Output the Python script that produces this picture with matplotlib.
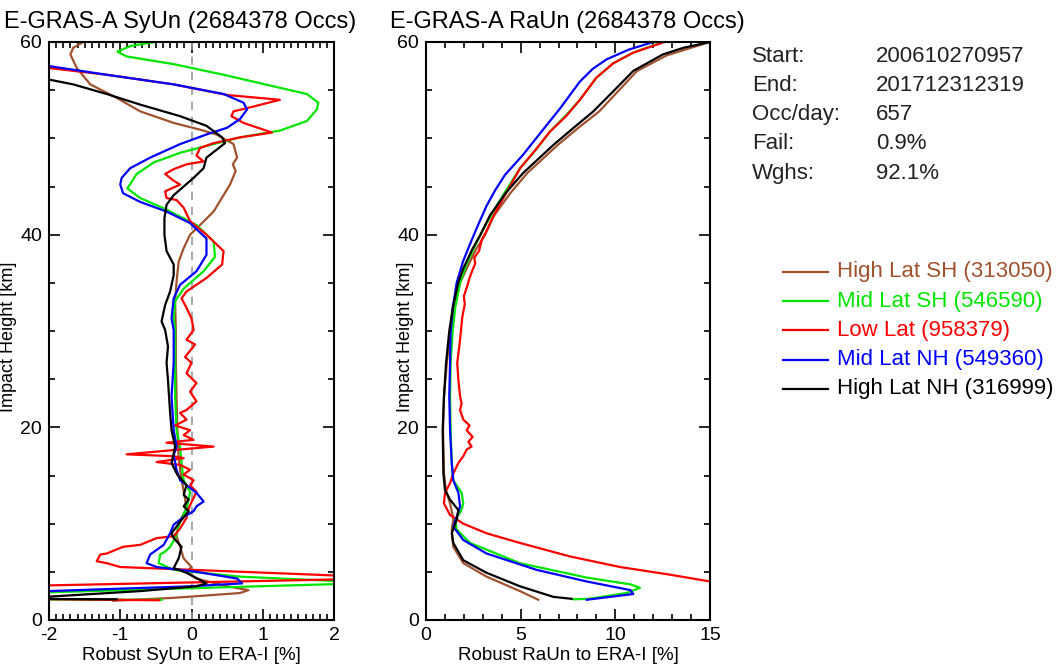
import numpy as np
import matplotlib
matplotlib.use("Agg")
import matplotlib.pyplot as plt
from matplotlib.lines import Line2D
from matplotlib.ticker import MultipleLocator

plt.rcParams['font.family'] = ['Liberation Sans', 'DejaVu Sans']
plt.rcParams['axes.unicode_minus'] = False

# Data: (value [%], impact height [km]), bottom to top
# Left panel: robust systematic uncertainty (SyUn)
syun_hl_sh = np.array([
    [-1.10, 2.0], [-0.25, 2.3], [0.68, 2.8], [0.80, 3.1], [0.50, 3.5], [0.07, 4.3],
    [-0.07, 5.0], [0.00, 5.5], [-0.11, 6.4], [-0.16, 7.6], [-0.21, 8.7], [-0.18, 10.0],
    [-0.07, 11.6], [-0.10, 13.0], [-0.15, 15.0], [-0.18, 17.0], [-0.20, 20.0], [-0.21, 23.0],
    [-0.22, 27.0], [-0.22, 30.0], [-0.23, 33.1], [-0.21, 35.1], [-0.18, 37.2], [-0.11, 38.6],
    [-0.02, 40.0], [0.12, 41.0], [0.31, 42.4], [0.45, 44.1], [0.54, 45.2], [0.62, 46.6],
    [0.58, 47.3], [0.64, 48.0], [0.59, 49.4], [0.35, 50.4], [0.12, 50.9], [-0.25, 51.6],
    [-0.72, 52.8], [-1.05, 54.2], [-1.42, 55.6], [-1.61, 57.3], [-1.70, 58.7], [-1.66, 59.4],
    [-1.52, 60.0]])
syun_ml_sh = np.array([
    [-0.42, 2.1], [-2.6, 2.15], [-2.6, 2.75], [2.6, 3.85], [0.68, 4.5], [-0.25, 5.2],
    [-0.46, 5.9], [-0.44, 6.8], [-0.37, 7.1], [-0.30, 7.6], [-0.23, 8.5], [-0.16, 10.2],
    [-0.07, 11.6], [-0.04, 12.5], [-0.02, 13.3], [-0.11, 14.5], [-0.14, 16.3], [-0.16, 18.0],
    [-0.21, 19.7], [-0.23, 23.2], [-0.23, 26.7], [-0.23, 30.1], [-0.25, 31.3], [-0.23, 33.1],
    [-0.11, 34.4], [0.17, 36.2], [0.33, 37.7], [0.31, 39.3], [0.07, 41.0], [-0.35, 42.6],
    [-0.72, 43.8], [-0.90, 44.8], [-0.77, 46.3], [-0.53, 47.5], [-0.16, 48.5], [0.31, 49.4],
    [0.68, 50.1], [1.24, 50.8], [1.62, 51.8], [1.76, 53.0], [1.78, 53.7], [1.62, 54.6],
    [1.15, 55.4], [0.45, 56.6], [-0.25, 57.7], [-0.91, 58.5], [-1.04, 59.0], [-0.85, 59.6],
    [-0.51, 60.0]])
syun_low = np.array([
    [-0.46, 2.05], [-2.6, 2.2], [-2.6, 3.5], [2.6, 4.3], [2.6, 4.45], [-1.00, 5.5],
    [-1.19, 5.9], [-1.33, 6.1], [-1.28, 6.8], [-1.19, 6.9], [-0.96, 7.6], [-0.72, 7.8],
    [-0.49, 8.5], [-0.25, 8.7], [-0.16, 9.5], [-0.07, 10.6], [-0.04, 11.6], [0.07, 13.3],
    [-0.02, 14.0], [0.03, 14.5], [-0.11, 15.1], [-0.02, 15.6], [-0.16, 16.1], [-0.49, 16.4],
    [-0.11, 16.8], [-0.25, 17.0], [-0.91, 17.2], [-0.16, 17.7], [0.31, 18.0], [-0.35, 18.4],
    [0.03, 18.7], [-0.11, 19.2], [-0.02, 19.7], [-0.23, 20.2], [-0.07, 20.8], [-0.16, 21.5],
    [-0.07, 21.8], [0.07, 22.7], [-0.02, 23.7], [0.07, 24.6], [-0.07, 25.6], [0.00, 26.7],
    [-0.09, 27.3], [0.05, 28.6], [-0.07, 29.1], [0.03, 30.1], [0.00, 31.3], [-0.07, 32.4],
    [-0.14, 33.4], [-0.07, 34.1], [0.03, 34.6], [0.21, 35.5], [0.43, 36.9], [0.45, 38.3],
    [0.21, 40.0], [-0.02, 41.4], [-0.11, 42.8], [-0.21, 43.6], [-0.35, 43.8], [-0.37, 44.5],
    [-0.16, 45.2], [-0.25, 45.6], [-0.37, 46.3], [-0.25, 46.8], [-0.07, 47.3], [0.17, 47.6],
    [0.07, 48.2], [0.12, 49.0], [0.31, 49.5], [0.68, 50.1], [1.13, 50.6], [0.73, 51.6],
    [0.56, 52.3], [0.59, 52.8], [0.87, 53.3], [1.24, 54.0], [0.50, 54.5], [-0.25, 55.6],
    [-1.19, 56.6], [-2.00, 57.3], [-3.50, 60.0]])
syun_ml_nh = np.array([
    [-2.6, 2.6], [-2.0, 3.0], [-0.02, 3.5], [0.71, 3.8], [0.64, 4.3], [0.07, 5.0],
    [-0.49, 5.5], [-0.63, 5.9], [-0.58, 6.8], [-0.39, 7.8], [-0.30, 9.0], [-0.25, 9.9],
    [-0.11, 10.7], [0.03, 11.3], [0.07, 11.8], [0.17, 12.3], [0.07, 13.2], [-0.16, 14.5],
    [-0.21, 15.6], [-0.25, 17.1], [-0.21, 18.0], [-0.25, 19.7], [-0.28, 23.2], [-0.25, 26.7],
    [-0.25, 30.1], [-0.28, 31.3], [-0.25, 33.4], [-0.16, 34.8], [0.07, 36.2], [0.21, 37.9],
    [0.21, 39.6], [-0.02, 41.2], [-0.35, 42.4], [-0.72, 43.4], [-0.96, 44.3], [-1.00, 45.2],
    [-0.98, 45.9], [-0.86, 46.9], [-0.58, 48.0], [-0.16, 49.4], [0.21, 50.4], [0.50, 51.1],
    [0.68, 52.0], [0.78, 53.0], [0.73, 53.7], [0.45, 54.6], [-0.25, 55.6], [-1.19, 56.6],
    [-2.00, 57.5], [-3.20, 60.0]])
syun_hl_nh = np.array([
    [-1.05, 2.15], [-2.5, 2.2], [-0.72, 3.0], [0.07, 3.5], [0.21, 3.8], [-0.07, 4.9],
    [-0.25, 5.4], [-0.18, 6.4], [-0.14, 7.6], [-0.25, 8.5], [-0.28, 9.0], [-0.16, 10.2],
    [-0.04, 11.3], [-0.11, 11.8], [-0.04, 12.5], [-0.11, 13.0], [-0.07, 14.0], [-0.20, 15.1],
    [-0.28, 16.3], [-0.23, 18.0], [-0.28, 19.7], [-0.30, 21.5], [-0.33, 24.9], [-0.35, 26.7],
    [-0.33, 28.4], [-0.37, 30.1], [-0.42, 31.0], [-0.37, 32.7], [-0.30, 34.1], [-0.25, 35.8],
    [-0.25, 36.9], [-0.35, 38.3], [-0.38, 40.0], [-0.38, 41.7], [-0.35, 43.1], [-0.25, 44.1],
    [-0.11, 45.0], [0.03, 45.9], [0.17, 46.9], [0.21, 48.0], [0.35, 48.8], [0.47, 49.5],
    [0.43, 50.1], [0.21, 51.3], [-0.16, 52.3], [-0.72, 53.5], [-1.19, 54.6], [-1.66, 55.6],
    [-2.00, 56.1], [-3.50, 58.5]])

# Right panel: robust random uncertainty (RaUn)
raun_hl_sh = np.array([
    [5.93, 2.1], [4.96, 3.0], [3.20, 4.5], [1.97, 5.9], [1.44, 7.6], [1.36, 9.4],
    [1.45, 10.5], [1.27, 12.1], [1.05, 13.5], [0.95, 15.2], [0.90, 19.7], [0.95, 23.2],
    [1.10, 26.7], [1.30, 30.0], [1.50, 32.5], [1.80, 35.0], [2.15, 36.5], [2.65, 38.5],
    [3.10, 39.9], [3.60, 42.0], [4.45, 44.3], [5.35, 46.4], [6.95, 49.3], [8.05, 51.1],
    [9.15, 52.8], [10.15, 54.9], [11.15, 57.0], [12.70, 58.6], [14.0, 59.4], [15.0, 60.0]])
raun_ml_sh = np.array([
    [7.8, 2.15], [8.6, 2.2], [10.6, 2.8], [11.3, 3.35], [10.8, 3.7], [8.5, 4.4],
    [4.96, 5.9], [2.32, 8.0], [1.62, 9.4], [1.53, 10.4], [1.85, 11.3], [1.97, 12.1],
    [1.88, 13.2], [1.44, 14.5], [1.36, 16.3], [1.30, 19.7], [1.27, 23.2], [1.30, 26.7],
    [1.41, 30.0], [1.55, 32.5], [1.80, 35.0], [2.15, 37.0], [2.70, 39.3], [3.20, 41.2],
    [3.80, 43.2], [4.20, 44.5], [4.97, 46.9], [5.80, 48.8], [6.55, 50.7], [7.40, 52.4],
    [8.13, 54.0], [9.00, 56.3], [9.90, 57.8], [10.95, 58.9], [12.5, 60.0]])
raun_low = np.array([
    [18.0, 3.0], [15.0, 4.0], [12.9, 4.7], [10.25, 5.5], [7.6, 6.6], [4.96, 8.0],
    [3.20, 9.0], [1.97, 10.0], [1.27, 10.9], [0.95, 12.1], [1.00, 13.2], [1.27, 14.2],
    [1.44, 15.2], [1.71, 16.3], [1.97, 17.0], [2.15, 17.7], [2.41, 18.0], [2.24, 18.5],
    [2.46, 19.0], [2.15, 19.7], [2.30, 20.2], [1.97, 20.8], [1.80, 21.8], [1.88, 22.5],
    [1.80, 23.2], [1.71, 24.9], [1.65, 26.7], [1.76, 28.4], [1.85, 30.1], [1.92, 31.5],
    [2.05, 32.8], [2.00, 33.6], [2.15, 34.5], [2.30, 35.5], [2.45, 36.3], [2.60, 37.0],
    [2.55, 37.6], [2.80, 38.3], [2.95, 39.5], [3.20, 40.4], [3.45, 41.5], [3.80, 42.8],
    [4.07, 43.75], [4.97, 46.9], [5.70, 48.6], [6.55, 50.7], [7.40, 52.3], [8.13, 54.0],
    [9.00, 56.3], [9.90, 57.8], [10.95, 58.9], [12.6, 60.0]])
raun_ml_nh = np.array([
    [8.49, 2.1], [10.95, 2.7], [10.8, 3.1], [8.49, 4.0], [5.85, 5.2], [3.20, 6.9],
    [1.97, 8.3], [1.44, 9.7], [1.62, 10.7], [1.80, 11.8], [1.71, 13.2], [1.44, 14.5],
    [1.36, 16.3], [1.27, 19.7], [1.23, 23.2], [1.27, 26.7], [1.30, 30.0], [1.42, 32.5],
    [1.62, 35.0], [1.95, 37.2], [2.32, 39.0], [2.75, 41.0], [3.20, 43.0], [3.65, 44.6],
    [4.17, 46.2], [5.13, 48.3], [6.10, 50.7], [7.08, 53.1], [8.13, 55.9], [8.80, 57.2],
    [9.54, 58.2], [10.7, 59.2], [12.0, 60.0]])
raun_hl_nh = np.array([
    [7.69, 2.2], [6.73, 2.4], [4.96, 3.5], [3.20, 4.9], [1.97, 6.2], [1.44, 8.0],
    [1.36, 9.0], [1.62, 10.4], [1.71, 11.4], [1.27, 12.5], [1.00, 13.5], [0.92, 15.2],
    [0.88, 19.7], [0.95, 23.2], [1.06, 26.7], [1.23, 30.0], [1.42, 32.5], [1.70, 35.0],
    [1.97, 36.5], [2.45, 38.5], [2.85, 39.9], [3.38, 42.0], [4.20, 44.3], [5.13, 46.4],
    [6.72, 49.3], [7.80, 51.1], [8.84, 52.8], [9.90, 54.9], [10.95, 57.0], [12.5, 58.7],
    [13.6, 59.4], [15.0, 60.0]])

labels = ['High Lat SH (313050)', 'Mid Lat SH (546590)', 'Low Lat (958379)',
          'Mid Lat NH (549360)', 'High Lat NH (316999)']
colors = ['#a0522d', '#00e600', '#ff0000', '#0000ff', '#000000']
syun = [syun_hl_sh, syun_ml_sh, syun_low, syun_ml_nh, syun_hl_nh]
raun = [raun_hl_sh, raun_ml_sh, raun_low, raun_ml_nh, raun_hl_nh]

info_keys = ['Start:', 'End:', 'Occ/day:', 'Fail:', 'Wghs:']
info_vals = ['200610270957', '201712312319', '657', '0.9%', '92.1%']

W, H = 1060, 668
fig = plt.figure(figsize=(W / 100, H / 100), dpi=100)
ax1 = fig.add_axes([49 / W, 48 / H, 285 / W, 578 / H])
ax2 = fig.add_axes([426 / W, 48 / H, 284 / W, 578 / H])

ax1.axvline(0, color='#999999', linestyle=(0, (5, 4)), linewidth=1.2)
for d, c in zip(syun, colors):
    ax1.plot(d[:, 0], d[:, 1], color=c, linewidth=1.6)
for d, c in zip(raun, colors):
    ax2.plot(d[:, 0], d[:, 1], color=c, linewidth=1.6)

ax1.set_xlim(-2, 2)
ax2.set_xlim(0, 15)
ax1.xaxis.set_major_locator(MultipleLocator(1))
ax1.xaxis.set_minor_locator(MultipleLocator(0.1))
ax2.xaxis.set_major_locator(MultipleLocator(5))
ax2.xaxis.set_minor_locator(MultipleLocator(1))
ax1.set_xlabel('Robust SyUn to ERA-I [%]', fontsize=13.5, labelpad=2)
ax2.set_xlabel('Robust RaUn to ERA-I [%]', fontsize=13.5, labelpad=2)

# ylabel anchor is the right edge of the rotated text
for ax, xc in [(ax1, -0.112), (ax2, -0.042)]:
    ax.set_ylim(0, 60)
    ax.yaxis.set_major_locator(MultipleLocator(20))
    ax.yaxis.set_minor_locator(MultipleLocator(5))
    ax.set_ylabel('Impact Height [km]', fontsize=13)
    ax.yaxis.set_label_coords(xc, 0.49)
    ax.tick_params(which='both', direction='in', top=True, right=True, width=1.2)
    ax.tick_params(which='major', length=8, labelsize=14, pad=5)
    ax.tick_params(which='minor', length=4)
    for s in ax.spines.values():
        s.set_linewidth(1.5)

fig.text(180 / W, 1 - 22 / H, 'E-GRAS-A SyUn (2684378 Occs)', fontsize=17,
         ha='center', va='center')
fig.text(567 / W, 1 - 22 / H, 'E-GRAS-A RaUn (2684378 Occs)', fontsize=17,
         ha='center', va='center')

for i, (k, v) in enumerate(zip(info_keys, info_vals)):
    y = 1 - (56 + 29.3 * i) / H
    fig.text(752 / W, y, k, fontsize=16, va='center', color='#222222')
    fig.text(876 / W, y, v, fontsize=16, va='center', color='#222222')

for i, (lab, c) in enumerate(zip(labels, colors)):
    y = 1 - (272 + 29.2 * i) / H
    fig.add_artist(Line2D([783 / W, 828 / W], [y, y], color=c, linewidth=1.6))
    fig.text(837 / W, y, lab, fontsize=16, va='center', color=c)

fig.savefig('out.png', dpi=100)
